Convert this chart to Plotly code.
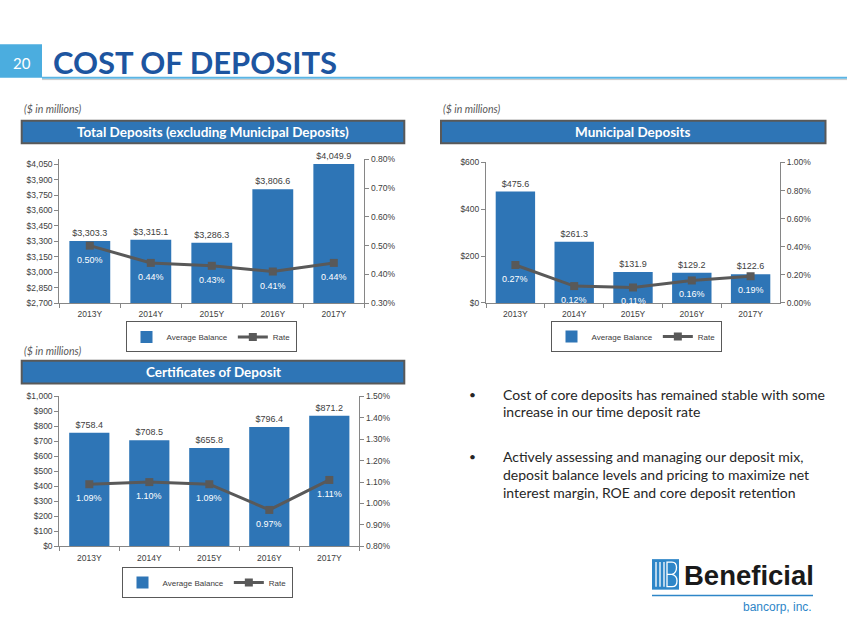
import plotly.graph_objects as go

W, H = 847, 635

# ---------------- data ----------------
years = ["2013Y", "2014Y", "2015Y", "2016Y", "2017Y"]
total_balance = [3303.3, 3315.1, 3286.3, 3806.6, 4049.9]
total_rate = [0.50, 0.44, 0.43, 0.41, 0.44]
muni_balance = [475.6, 261.3, 131.9, 129.2, 122.6]
muni_rate = [0.27, 0.12, 0.11, 0.16, 0.19]
cd_balance = [758.4, 708.5, 655.8, 796.4, 871.2]
cd_rate = [1.09, 1.10, 1.09, 0.97, 1.11]

chart_titles = ["Total Deposits (excluding Municipal Deposits)", "Municipal Deposits", "Certificates of Deposit"]
series_names = ["Average Balance", "Rate"]
page_number = "20"
page_title = "COST OF DEPOSITS"
units_note = "($ in millions)"
bullets = [
    ["Cost of core deposits has remained stable with some", "increase in our time deposit rate"],
    ["Actively assessing and managing our deposit mix,", "deposit balance levels and pricing to maximize net",
     "interest margin, ROE and core deposit retention"],
]

# ---------------- style ----------------
BLUE = "#2E75B6"
LINE = "#595959"
AXIS = "#868686"
TXT = "#404040"
CF = "Liberation Sans, Arial, sans-serif"
TF = "Lato, Calibri, sans-serif"


def px(x):
    return x / W


def py(y):
    return 1 - y / H


charts = [
    dict(bal=total_balance, rate=total_rate, xd=[59.3, 364.3], yd=[303, 156.7],
         lr=[2700, 4097], l0=2700, ld=150, rr=[0.30, 0.80], rd=0.10,
         leg=(211, 321.5), tbox=(21.7, 404.3, 117.5, 140.5), note=(22, 106)),
    dict(bal=muni_balance, rate=muni_rate, xd=[486, 780], yd=[302.7, 160],
         lr=[0, 600], l0=0, ld=200, rr=[0.0, 1.0], rd=0.20,
         leg=(636, 321), tbox=(441, 825.5, 117.5, 140.5), note=(441, 106)),
    dict(bal=cd_balance, rate=cd_rate, xd=[59.3, 359.3], yd=[550, 397.7],
         lr=[0, 1000], l0=0, ld=100, rr=[0.80, 1.50], rd=0.10,
         leg=(207, 571), tbox=(21.7, 404.3, 361.5, 384.5), note=(22, 351.5)),
]

fig = go.Figure()
layout = dict(width=W, height=H, margin=dict(l=0, r=0, t=0, b=0),
              paper_bgcolor="white", plot_bgcolor="rgba(0,0,0,0)",
              bargap=0.33, showlegend=True)
annotations = []
shapes = []

tickfont = dict(family=CF, size=8.5, color=TXT)


def note(x, y, text, font, xanchor="center", yanchor="middle", **kw):
    d = dict(x=x, y=y, xref="paper", yref="paper", text=text, showarrow=False,
             xanchor=xanchor, yanchor=yanchor, font=font)
    d.update(kw)
    annotations.append(d)


for i, c in enumerate(charts):
    n = i + 1
    xa = "x" if n == 1 else f"x{n}"
    yl_idx = 2 * i + 1
    yr_idx = 2 * i + 2
    yl = "y" if yl_idx == 1 else f"y{yl_idx}"
    yr = f"y{yr_idx}"
    leg = "legend" if n == 1 else f"legend{n}"

    fig.add_trace(go.Bar(
        x=years, y=c["bal"], name=series_names[0], xaxis=xa, yaxis=yl,
        marker=dict(color=BLUE, line=dict(width=0)),
        text=[f"${v:,.1f}" for v in c["bal"]], textposition="outside",
        textfont=dict(family=CF, size=9, color=TXT), cliponaxis=False,
        legend=leg, hoverinfo="skip"))
    fig.add_trace(go.Scatter(
        x=years, y=c["rate"], name=series_names[1], xaxis=xa, yaxis=yr,
        mode="lines+markers", line=dict(color=LINE, width=3),
        marker=dict(symbol="square", size=8, color=LINE),
        cliponaxis=False, legend=leg, hoverinfo="skip"))

    for yv, rv in zip(years, c["rate"]):
        annotations.append(dict(x=yv, y=rv, xref=xa, yref=yr, text=f"{rv:.2f}%",
                                showarrow=False, yshift=-14, xanchor="center", yanchor="middle",
                                font=dict(family=CF, size=9, color="white")))

    xdom = [px(c["xd"][0]), px(c["xd"][1])]
    ydom = [py(c["yd"][0]), py(c["yd"][1])]
    xkey = "xaxis" if n == 1 else f"xaxis{n}"
    ylkey = "yaxis" if yl_idx == 1 else f"yaxis{yl_idx}"
    yrkey = f"yaxis{yr_idx}"
    layout[xkey] = dict(domain=xdom, anchor=yl, type="category", showline=True,
                        linecolor=AXIS, linewidth=1, ticks="outside", ticklen=4,
                        tickcolor=AXIS, tickson="boundaries", tickfont=tickfont,
                        ticklabelstandoff=3,
                        showgrid=False, zeroline=False, fixedrange=True)
    layout[ylkey] = dict(domain=ydom, anchor=xa, range=c["lr"], tick0=c["l0"], dtick=c["ld"],
                         tickprefix="$", tickformat=",d", showline=True, linecolor=AXIS,
                         linewidth=1, ticks="outside", ticklen=4, tickcolor=AXIS,
                         tickfont=tickfont, showgrid=False, zeroline=False)
    layout[yrkey] = dict(domain=ydom, anchor=xa, overlaying=yl, side="right",
                         range=c["rr"], tick0=c["rr"][0], dtick=c["rd"],
                         ticksuffix="%", tickformat=".2f", showline=True, linecolor=AXIS,
                         linewidth=1, ticks="outside", ticklen=4, tickcolor=AXIS,
                         tickfont=tickfont, showgrid=False, zeroline=False)
    layout[leg] = dict(x=px(c["leg"][0]), y=py(c["leg"][1]), xanchor="center", yanchor="top",
                       orientation="h", bordercolor=LINE, borderwidth=1, bgcolor="white",
                       font=dict(family=CF, size=8, color=TXT), itemwidth=30,
                       tracegroupgap=0)

    # title box
    x0, x1, y0, y1 = c["tbox"]
    shapes.append(dict(type="rect", xref="paper", yref="paper", x0=px(x0), x1=px(x1),
                       y0=py(y1), y1=py(y0), fillcolor=BLUE,
                       line=dict(color=LINE, width=2), layer="below"))
    note(px((x0 + x1) / 2), py((y0 + y1) / 2), f"<b>{chart_titles[i]}</b>",
         dict(family=TF, size=13.5, color="white"))
    note(px(c["note"][0]), py(c["note"][1]), f"<i>{units_note}</i>",
         dict(family=TF, size=10.5, color=LINE), xanchor="left")

# header
shapes.append(dict(type="rect", xref="paper", yref="paper", x0=0, x1=px(42),
                   y0=py(74), y1=py(40), fillcolor="#4BADDF", line=dict(width=0)))
shapes.append(dict(type="line", xref="paper", yref="paper", x0=px(42), x1=1,
                   y0=py(74), y1=py(74), line=dict(color="#5BB4E3", width=2)))
shapes.append(dict(type="line", xref="paper", yref="paper", x0=px(42), x1=1,
                   y0=py(75.8), y1=py(75.8), line=dict(color="#C8C8C8", width=1)))
note(px(22), py(59), page_number, dict(family=TF, size=15, color="white"))
note(px(51), py(58), f"<b>{page_title}</b>", dict(family=TF, size=31, color="#1D55A0"),
     xanchor="left")

# bullets
line_y = [[396, 413.5], [459, 477, 495.5]]
for b, ys in zip(bullets, line_y):
    note(px(473), py(ys[0]), "•", dict(family=TF, size=12, color="#262626"))
    for t, yy in zip(b, ys):
        note(px(501), py(yy), t, dict(family=TF, size=14, color="#262626"), xanchor="left")

# logo
LB = "#2E86C8"
shapes.append(dict(type="rect", xref="paper", yref="paper", x0=px(652), x1=px(679),
                   y0=py(594), y1=py(563), fillcolor=LB, line=dict(width=0)))
for sx in (656, 660, 664):
    shapes.append(dict(type="line", xref="paper", yref="paper", x0=px(sx), x1=px(sx),
                       y0=py(591), y1=py(566), line=dict(color="white", width=1.3)))


def P(x, y):
    return f"{px(x):.5f},{py(y):.5f}"


bpath = (f"M {P(667, 566)} L {P(672, 566)} Q {P(676.5, 566)} {P(676.5, 571.5)} "
         f"Q {P(676.5, 577)} {P(672, 578.5)} Q {P(677, 580)} {P(677, 585)} "
         f"Q {P(677, 591)} {P(672, 591)} L {P(667, 591)} Z M {P(667, 578.5)} L {P(672, 578.5)}")
shapes.append(dict(type="path", xref="paper", yref="paper", path=bpath,
                   line=dict(color="white", width=1.3)))
shapes.append(dict(type="line", xref="paper", yref="paper", x0=px(652), x1=px(813),
                   y0=py(600), y1=py(600), line=dict(color=LB, width=1.5)))
note(px(682), py(579.5), "<b>Beneficial</b>",
     dict(family="Liberation Sans, Arial", size=27.5, color="#1A1A1A"), xanchor="left")
note(px(814), py(611.5), "bancorp, inc.",
     dict(family="Liberation Sans, Arial", size=12, color=LB), xanchor="right")

layout["annotations"] = annotations
layout["shapes"] = shapes
fig.update_layout(**layout)
fig.write_html("out.html", config={"displayModeBar": False},
               post_script="document.body.style.margin='0';document.body.style.padding='0';"
                           "document.body.style.overflow='hidden';")
